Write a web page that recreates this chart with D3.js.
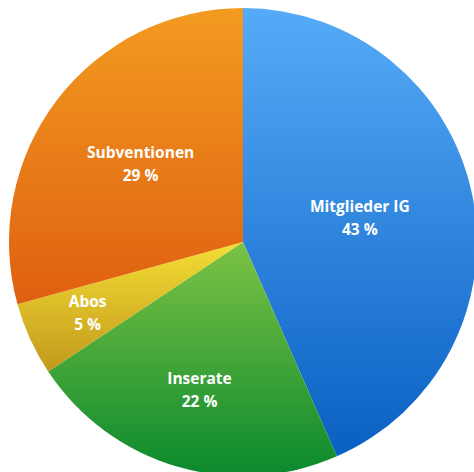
<!DOCTYPE html>
<html>
<head>
<meta charset="utf-8">
<script src="https://cdn.jsdelivr.net/npm/d3@7"></script>
<style>
  html, body { margin: 0; padding: 0; background: #ffffff; }
  svg { display: block; }
</style>
</head>
<body>
<svg id="chart" width="474" height="472"></svg>
<script>
// ---- data ----
const categories = ["Mitglieder IG", "Inserate", "Abos", "Subventionen"];
const values = [43, 22, 5, 29];
const valueLabels = ["43 %", "22 %", "5 %", "29 %"];

// ---- styling (not data) ----
const gradTop = ["#56abf8", "#7dc345", "#f4de33", "#f39b21"];
const gradBottom = ["#0960c2", "#0a892d", "#c3981e", "#df5f10"];
const labelRadiusFactor = [0.51, 0.66, 0.73, 0.55];

const svg = d3.select("#chart");
const cx = 243, cy = 242, R = 234;

const pie = d3.pie().sort(null).value(d => d.value);
const data = categories.map((c, i) => ({ name: c, value: values[i], label: valueLabels[i], i }));
const arcs = pie(data);
const arcGen = d3.arc().innerRadius(0).outerRadius(R);

const defs = svg.append("defs");
arcs.forEach((a, i) => {
  const g = defs.append("linearGradient")
    .attr("id", "grad" + i)
    .attr("x1", 0).attr("y1", 0).attr("x2", 0).attr("y2", 1);
  g.append("stop").attr("offset", "0%").attr("stop-color", gradTop[i]);
  g.append("stop").attr("offset", "100%").attr("stop-color", gradBottom[i]);
});

const g = svg.append("g").attr("transform", `translate(${cx},${cy})`);

g.selectAll("path.slice")
  .data(arcs)
  .join("path")
  .attr("class", "slice")
  .attr("d", arcGen)
  .attr("fill", (d, i) => `url(#grad${i})`);

const labels = g.selectAll("g.lbl")
  .data(arcs)
  .join("g")
  .attr("class", "lbl")
  .attr("transform", (d, i) => {
    const r = R * labelRadiusFactor[i];
    const c = d3.arc().innerRadius(r).outerRadius(r).centroid(d);
    return `translate(${c[0]},${c[1]})`;
  });

labels.append("text")
  .attr("text-anchor", "middle")
  .attr("y", -6)
  .attr("font-family", "'Open Sans', 'Noto Sans', sans-serif")
  .attr("font-weight", "bold")
  .attr("font-size", 15.5)
  .attr("fill", "#ffffff")
  .text(d => d.data.name);

labels.append("text")
  .attr("text-anchor", "middle")
  .attr("y", 17)
  .attr("font-family", "'Open Sans', 'Noto Sans', sans-serif")
  .attr("font-weight", "bold")
  .attr("font-size", 15.5)
  .attr("fill", "#ffffff")
  .text(d => d.data.label);
</script>
</body>
</html>
